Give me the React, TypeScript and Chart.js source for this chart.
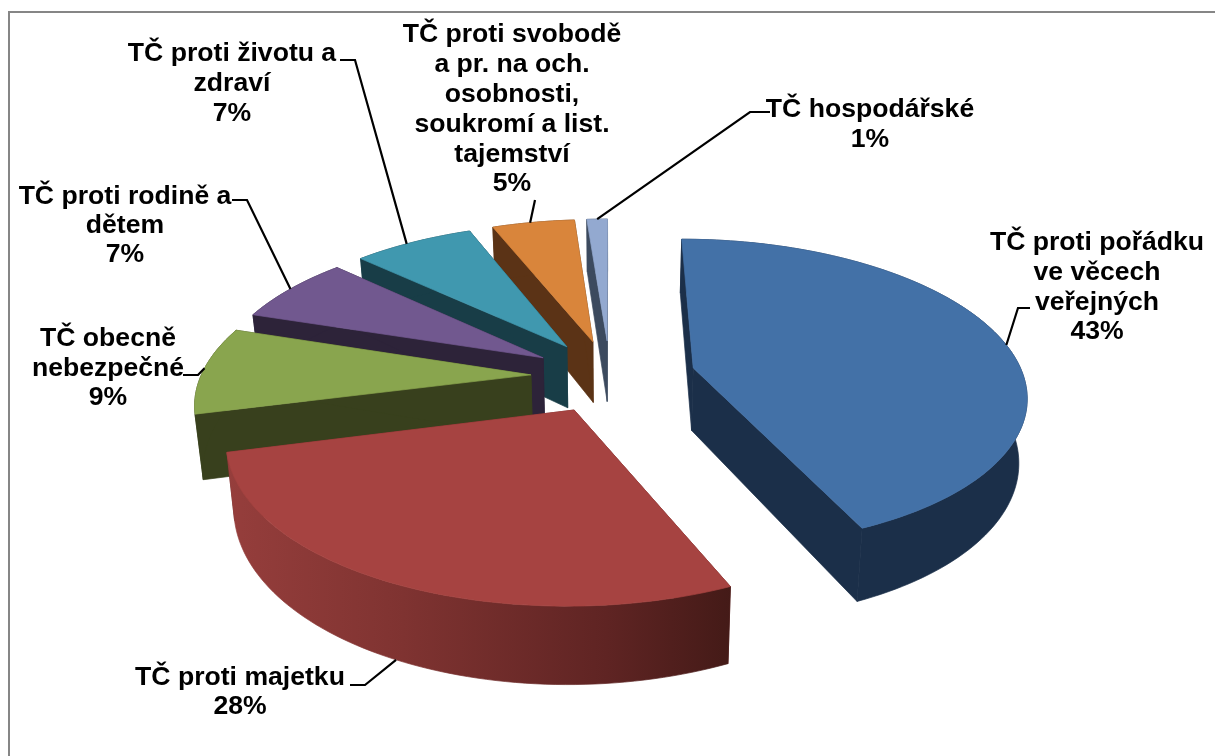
import React, { useEffect, useRef } from "react";
import { Chart, registerables } from "chart.js";

Chart.register(...registerables);

const categories = [
  "TČ proti pořádku ve věcech veřejných",
  "TČ proti majetku",
  "TČ obecně nebezpečné",
  "TČ proti rodině a dětem",
  "TČ proti životu a zdraví",
  "TČ proti svobodě a pr. na och. osobnosti, soukromí a list. tajemství",
  "TČ hospodářské",
];
const shares = [43.4, 27.6, 9, 7, 7, 4.8, 1.2];
const explosion = [0.26, 0.24, 0.24, 0.24, 0.24, 0.24, 0.24];
const topColors = ["#4371a7", "#a64341", "#89a54e", "#71588f", "#4098af", "#d9853b", "#93a9d0"];
const sideColors = ["#1b2f49", "#6a2826", "#38401d", "#2d2339", "#183d47", "#5b3316", "#3c4a5e"];
const labelLines = [
  ["TČ proti pořádku", "ve věcech", "veřejných", "43%"],
  ["TČ proti majetku", "28%"],
  ["TČ obecně", "nebezpečné", "9%"],
  ["TČ proti rodině a", "dětem", "7%"],
  ["TČ proti životu a", "zdraví", "7%"],
  ["TČ proti svobodě", "a pr. na och.", "osobnosti,", "soukromí a list.", "tajemství", "5%"],
  ["TČ hospodářské", "1%"],
];
// label block layout: centre x, first line y, line step
const labelLayout = [
  [1097, 243, 29.7],
  [240, 678, 29],
  [108, 339, 29.5],
  [125, 197, 29],
  [232, 54, 30],
  [512, 35, 29.8],
  [870, 110, 30],
];
// leader layout: start and elbow on the label side, then fraction across the slice's arc
const leaderLayout = [
  [1030, 308, 1018, 308, 0.52],
  [350, 685, 365, 685, 0.5],
  [183, 375, 198, 375, 0.5],
  [232, 200, 247, 200, 0.5],
  [340, 60, 355, 60, 0.43],
  [535, 200, 535, 200, 0.46],
  [770, 112, 750, 112, 0.5],
];

const view = { cx: 610, cy: 376, a: 330, b: 152, k: 0.162, d: 63, zk: 0.02 };

function project(X: number, Y: number, z: number): [number, number] {
  const w = 1 + view.k * Y;
  return [
    view.cx + ((view.a * X) / w) * (1 - view.zk * z),
    view.cy - (view.b * Y) / w + (view.d * z) / w,
  ];
}

function sliceGeometry(arc: any, i: number) {
  const mid = (arc.startAngle + arc.endAngle) / 2;
  const ox = Math.cos(mid) * explosion[i];
  const oy = -Math.sin(mid) * explosion[i];
  const n = Math.max(4, Math.ceil((arc.endAngle - arc.startAngle) * 40));
  const rim: [number, number][] = [];
  for (let j = 0; j <= n; j++) {
    const t = arc.startAngle + ((arc.endAngle - arc.startAngle) * j) / n;
    rim.push([ox + Math.cos(t), oy - Math.sin(t)]);
  }
  return { ox, oy, rim };
}

function fillPath(ctx: CanvasRenderingContext2D, pts: [number, number][], fill: any) {
  ctx.beginPath();
  pts.forEach((p, i) => (i ? ctx.lineTo(p[0], p[1]) : ctx.moveTo(p[0], p[1])));
  ctx.closePath();
  ctx.fillStyle = fill;
  ctx.strokeStyle = fill;
  ctx.lineWidth = 0.7;
  ctx.lineJoin = "round";
  ctx.fill();
  ctx.stroke();
}

const pie3d = {
  id: "pie3d",
  beforeDraw(chart: any) {
    const ctx = chart.ctx;
    ctx.save();
    ctx.fillStyle = "#ffffff";
    ctx.fillRect(0, 0, chart.width, chart.height);
    ctx.strokeStyle = "#868686";
    ctx.lineWidth = 2;
    ctx.strokeRect(9, 12, chart.width + 20, chart.height + 20);
    ctx.restore();
  },
  beforeDatasetDraw(chart: any) {
    const ctx: CanvasRenderingContext2D = chart.ctx;
    const arcs: any[] = chart.getDatasetMeta(0).data;
    const order = arcs
      .map((arc, i) => ({ i, g: sliceGeometry(arc, i) }))
      .sort((p, q) => q.g.oy - p.g.oy);
    ctx.save();
    order.forEach(({ i, g }) => {
      const { ox, oy, rim } = g;
      const side = sideColors[i];
      const first = rim[0];
      const last = rim[rim.length - 1];
      fillPath(ctx, [project(ox, oy, 0), project(first[0], first[1], 0), project(first[0], first[1], 1), project(ox, oy, 1)], side);
      fillPath(ctx, [project(ox, oy, 0), project(last[0], last[1], 0), project(last[0], last[1], 1), project(ox, oy, 1)], side);
      const wall = [
        ...rim.map((p) => project(p[0], p[1], 0)),
        ...rim.slice().reverse().map((p) => project(p[0], p[1], 1)),
      ];
      let wallFill: any = side;
      if (i === 1) {
        const grad = ctx.createLinearGradient(225, 0, 735, 0);
        grad.addColorStop(0, "#963e3c");
        grad.addColorStop(0.35, "#7f3331");
        grad.addColorStop(0.75, "#5f2423");
        grad.addColorStop(1, "#431a17");
        wallFill = grad;
      }
      fillPath(ctx, wall, wallFill);
      fillPath(ctx, [project(ox, oy, 0), ...rim.map((p) => project(p[0], p[1], 0))], topColors[i]);
    });
    // leader lines
    ctx.strokeStyle = "#000000";
    ctx.lineWidth = 2.2;
    ctx.lineJoin = "miter";
    arcs.forEach((arc, i) => {
      const { rim } = sliceGeometry(arc, i);
      const [sx, sy, ex, ey, frac] = leaderLayout[i];
      const p = rim[Math.round((rim.length - 1) * frac)];
      const end = project(p[0], p[1], i === 1 ? 1 : 0);
      ctx.beginPath();
      ctx.moveTo(sx, sy);
      ctx.lineTo(ex, ey);
      ctx.lineTo(end[0], end[1]);
      ctx.stroke();
    });
    // labels
    ctx.fillStyle = "#000000";
    ctx.font = 'bold 26.6px "Liberation Sans"';
    ctx.textAlign = "center";
    ctx.textBaseline = "middle";
    labelLines.forEach((lines, i) => {
      const [x, y, step] = labelLayout[i];
      lines.forEach((line, j) => ctx.fillText(line, x, y + j * step));
    });
    ctx.restore();
    return false;
  },
};

export default function App() {
  const ref = useRef<HTMLCanvasElement>(null);
  useEffect(() => {
    if (!ref.current) return;
    const chart = new Chart(ref.current, {
      type: "pie",
      data: {
        labels: categories,
        datasets: [{ data: shares, backgroundColor: topColors, borderWidth: 0 }],
      },
      options: {
        animation: false,
        responsive: false,
        rotation: 0,
        plugins: { legend: { display: false }, tooltip: { enabled: false } },
      },
      plugins: [pie3d],
    } as any);
    return () => chart.destroy();
  }, []);
  return (
    <div style={{ position: "fixed", left: 0, top: 0, width: 1215, height: 756 }}>
      <canvas ref={ref} width={1215} height={756} style={{ display: "block" }} />
    </div>
  );
}
